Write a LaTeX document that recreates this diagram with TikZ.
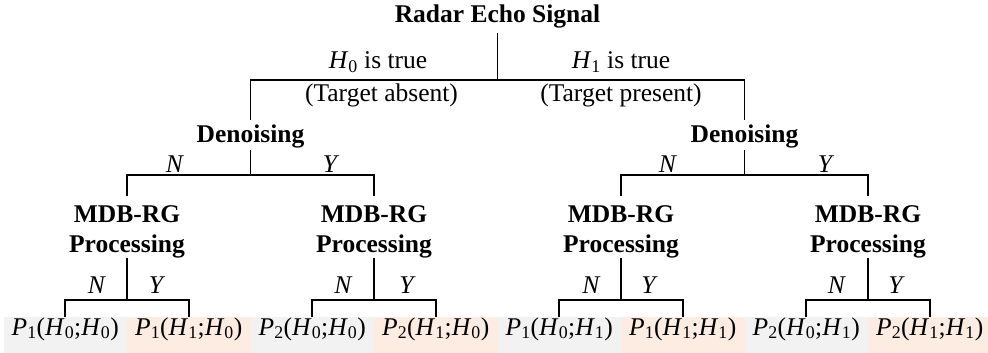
\documentclass[tikz,border=0pt]{standalone}
\usepackage{fontspec}
\setmainfont{Liberation Serif}
\definecolor{leafgray}{RGB}{242,242,242}
\definecolor{leafpeach}{RGB}{252,236,226}
\newcommand{\Hsub}[1]{\textit{H}\textsubscript{#1}}
\newcommand{\Psub}[1]{\textit{P}\textsubscript{#1}}
\begin{document}
\begin{tikzpicture}[x=1pt,y=-1pt,
  every node/.style={font=\fontsize{25.5pt}{30pt}\selectfont, inner sep=0pt, outer sep=0pt},
  conn/.style={line width=1.7pt},
  decision/.style={font=\fontsize{25.5pt}{30pt}\selectfont\bfseries, anchor=base},
  procbox/.style={font=\fontsize{25.5pt}{30pt}\selectfont\bfseries, align=center, anchor=north},
  branchlbl/.style={anchor=base},
  leafbox/.style={anchor=base, minimum width=123.5pt, text height=18pt, text depth=18pt},
  leafA/.style={leafbox, fill=leafgray},
  leafB/.style={leafbox, fill=leafpeach}]
\useasboundingbox (0,0) rectangle (988,353);

% leaves
\node[leafA] (l1) at (65.25,335)  {\Psub{1}(\Hsub{0};\Hsub{0})};
\node[leafB] (l2) at (188.75,335) {\Psub{1}(\Hsub{1};\Hsub{0})};
\node[leafA] (l3) at (312.25,335) {\Psub{2}(\Hsub{0};\Hsub{0})};
\node[leafB] (l4) at (435.75,335) {\Psub{2}(\Hsub{1};\Hsub{0})};
\node[leafA] (l5) at (559.25,335) {\Psub{1}(\Hsub{0};\Hsub{1})};
\node[leafB] (l6) at (682.75,335) {\Psub{1}(\Hsub{1};\Hsub{1})};
\node[leafA] (l7) at (806.25,335) {\Psub{2}(\Hsub{0};\Hsub{1})};
\node[leafB] (l8) at (929.75,335) {\Psub{2}(\Hsub{1};\Hsub{1})};

% root
\node[decision] (root) at (497.5,23) {\rule[-10pt]{0pt}{10pt}Radar Echo Signal};

% denoising
\node[decision] (d1) at (250.5,142) {\rule[-8pt]{0pt}{30pt}Denoising};
\node[decision] (d2) at (744.5,142) {\rule[-8pt]{0pt}{30pt}Denoising};

% MDB-RG processing
\node[procbox] (m1) at (127,196) {\rule{0pt}{26pt}MDB-RG\\Processing};
\node[procbox] (m2) at (374,196) {\rule{0pt}{26pt}MDB-RG\\Processing};
\node[procbox] (m3) at (621,196) {\rule{0pt}{26pt}MDB-RG\\Processing};
\node[procbox] (m4) at (868,196) {\rule{0pt}{26pt}MDB-RG\\Processing};

% junction points
\coordinate (b0) at (497.5,80);
\coordinate (b1) at (250.5,175);
\coordinate (b2) at (744.5,175);
\coordinate (c1) at (127,300);
\coordinate (c2) at (374,300);
\coordinate (c3) at (621,300);
\coordinate (c4) at (868,300);

% connectors
\draw[conn] (root.south) -- (b0);
\draw[conn] (d1.north) |- (b0) -| (d2.north);
\draw[conn] (d1.south) -- (b1);
\draw[conn] (m1.north) |- (b1) -| (m2.north);
\draw[conn] (d2.south) -- (b2);
\draw[conn] (m3.north) |- (b2) -| (m4.north);
\draw[conn] (m1.south) -- (c1);
\draw[conn] (l1.north) |- (c1) -| (l2.north);
\draw[conn] (m2.south) -- (c2);
\draw[conn] (l3.north) |- (c2) -| (l4.north);
\draw[conn] (m3.south) -- (c3);
\draw[conn] (l5.north) |- (c3) -| (l6.north);
\draw[conn] (m4.south) -- (c4);
\draw[conn] (l7.north) |- (c4) -| (l8.north);

% hypothesis labels
\node[branchlbl] (h0) at (378,69) {\Hsub{0} is true};
\node[branchlbl] (h0b) at (381.5,102) {(Target absent)};
\node[branchlbl] (h1) at (621,69) {\Hsub{1} is true};
\node[branchlbl] (h1b) at (621,102) {(Target present)};

% N/Y labels, denoising level
\node[branchlbl] (n1) at (175,172) {\textit{N}};
\node[branchlbl] (y1) at (331,172) {\textit{Y}};
\node[branchlbl] (n2) at (668,172) {\textit{N}};
\node[branchlbl] (y2) at (826,172) {\textit{Y}};

% N/Y labels, MDB level
\node[branchlbl] (n3) at (97,293) {\textit{N}};
\node[branchlbl] (y3) at (157,293) {\textit{Y}};
\node[branchlbl] (n4) at (343.5,293) {\textit{N}};
\node[branchlbl] (y4) at (407.5,293) {\textit{Y}};
\node[branchlbl] (n5) at (591.5,293) {\textit{N}};
\node[branchlbl] (y5) at (649.5,293) {\textit{Y}};
\node[branchlbl] (n6) at (837,293) {\textit{N}};
\node[branchlbl] (y6) at (896.5,293) {\textit{Y}};
\end{tikzpicture}
\end{document}
